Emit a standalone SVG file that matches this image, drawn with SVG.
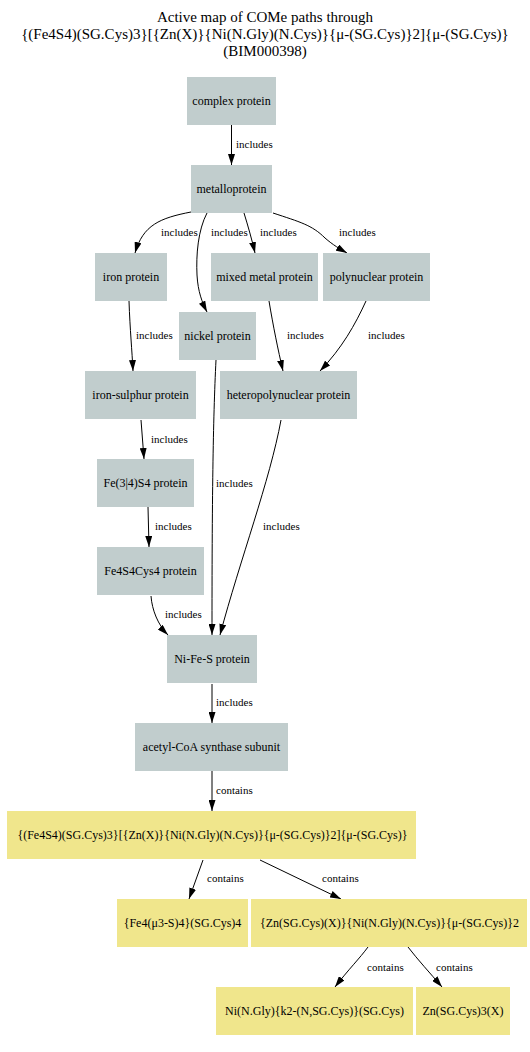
<svg xmlns="http://www.w3.org/2000/svg" width="530" height="1052" viewBox="0 0 530 1052">
<style>
.g{fill:#c1cdcd}
.k{fill:#f0e68c}
.t{font-family:"Liberation Serif","Times New Roman",serif;font-size:12px;fill:#000;text-anchor:middle}
.title{font-family:"Liberation Serif","Times New Roman",serif;font-size:15px;fill:#000;text-anchor:middle}
.e{fill:none;stroke:#000;stroke-width:1;marker-end:url(#ah)}
.l{font-family:"Liberation Serif","Times New Roman",serif;font-size:11px;fill:#000}
</style>
<defs>
<marker id="ah" markerUnits="userSpaceOnUse" markerWidth="11" markerHeight="7" viewBox="0 0 11 7" refX="11" refY="3.5" orient="auto">
<path d="M0,0 L11,3.5 L0,7 z" fill="#000"/>
</marker>
</defs>
<rect width="530" height="1052" fill="#fff"/>
<g id="title">
<text class="title" x="265" y="22">Active map of COMe paths through</text>
<text class="title" x="265" y="39">{(Fe4S4)(SG.Cys)3}[{Zn(X)}{Ni(N.Gly)(N.Cys)}{μ-(SG.Cys)}2]{μ-(SG.Cys)}</text>
<text class="title" x="265" y="56">(BIM000398)</text>
</g>
<g id="connectors">
<path class="e" d="M231.5,125 L231.5,165"/>
<path class="e" d="M191,212 C160,218 143,225 135,253"/>
<path class="e" d="M207,213 C198,230 196,255 197,275 C198,292 202,302 207,312"/>
<path class="e" d="M244,213 C248,226 252,240 255,253"/>
<path class="e" d="M273,213 C300,222 312,225 325,238 C333,245 340,249 347,253"/>
<path class="e" d="M129,301 C130,330 132,350 133,371"/>
<path class="e" d="M269,301 C273,325 278,350 283,371"/>
<path class="e" d="M366,301 C355,325 342,348 320,371"/>
<path class="e" d="M216,360 C213,420 212,500 212,635"/>
<path class="e" d="M141,420 L144,459"/>
<path class="e" d="M148,507 L149,547"/>
<path class="e" d="M151,596 C152,610 158,625 168,635"/>
<path class="e" d="M281,420 C270,480 240,560 220,635"/>
<path class="e" d="M212,684 L212,723"/>
<path class="e" d="M212,771 L212,811"/>
<path class="e" d="M203,860 L189,899"/>
<path class="e" d="M260,860 L341,899"/>
<path class="e" d="M368,947 C360,958 348,970 335,987"/>
<path class="e" d="M408,947 C418,960 430,973 442,987"/>
<text class="l" x="236" y="148">includes</text>
<text class="l" x="161" y="236">includes</text>
<text class="l" x="211" y="236">includes</text>
<text class="l" x="260" y="236">includes</text>
<text class="l" x="339" y="236">includes</text>
<text class="l" x="136" y="339">includes</text>
<text class="l" x="287" y="339">includes</text>
<text class="l" x="368" y="339">includes</text>
<text class="l" x="216" y="487">includes</text>
<text class="l" x="151" y="443">includes</text>
<text class="l" x="155" y="530">includes</text>
<text class="l" x="165" y="618">includes</text>
<text class="l" x="263" y="530">includes</text>
<text class="l" x="216" y="706">includes</text>
<text class="l" x="216" y="794">contains</text>
<text class="l" x="207" y="882">contains</text>
<text class="l" x="322" y="882">contains</text>
<text class="l" x="367" y="971">contains</text>
<text class="l" x="436" y="971">contains</text>
</g>
<g id="n-complex"><rect class="g" x="187" y="77" width="89" height="48"/><text class="t" x="231.5" y="105">complex protein</text></g>
<g id="n-metallo"><rect class="g" x="191" y="165" width="81" height="48"/><text class="t" x="231.5" y="193">metalloprotein</text></g>
<g id="n-iron"><rect class="g" x="95" y="253" width="72" height="48"/><text class="t" x="131" y="281">iron protein</text></g>
<g id="n-mixed"><rect class="g" x="211" y="253" width="107" height="48"/><text class="t" x="264.5" y="281">mixed metal protein</text></g>
<g id="n-poly"><rect class="g" x="323" y="253" width="107" height="48"/><text class="t" x="376.5" y="281">polynuclear protein</text></g>
<g id="n-nickel"><rect class="g" x="179" y="312" width="77" height="48"/><text class="t" x="217.5" y="340">nickel protein</text></g>
<g id="n-ironS"><rect class="g" x="85" y="371" width="111" height="48"/><text class="t" x="140.5" y="399">iron-sulphur protein</text></g>
<g id="n-hetero"><rect class="g" x="220" y="371" width="137" height="48"/><text class="t" x="288.5" y="399">heteropolynuclear protein</text></g>
<g id="n-fe34"><rect class="g" x="97" y="459" width="97" height="48"/><text class="t" x="145.5" y="487">Fe(3|4)S4 protein</text></g>
<g id="n-fe4s4cys4"><rect class="g" x="97" y="547" width="107" height="48"/><text class="t" x="150.5" y="575">Fe4S4Cys4 protein</text></g>
<g id="n-nifes"><rect class="g" x="167" y="635" width="90" height="48"/><text class="t" x="212" y="663">Ni-Fe-S protein</text></g>
<g id="n-acetyl"><rect class="g" x="135" y="723" width="153" height="48"/><text class="t" x="211.5" y="751">acetyl-CoA synthase subunit</text></g>
<g id="n-big"><rect class="k" x="7" y="811" width="409" height="48"/><text class="t" x="212.5" y="839">{(Fe4S4)(SG.Cys)3}[{Zn(X)}{Ni(N.Gly)(N.Cys)}{μ-(SG.Cys)}2]{μ-(SG.Cys)}</text></g>
<g id="n-fe4"><rect class="k" x="117" y="899" width="131" height="48"/><text class="t" x="182.5" y="927">{Fe4(μ3-S)4}(SG.Cys)4</text></g>
<g id="n-zn2"><rect class="k" x="251" y="899" width="276" height="48"/><text class="t" x="389.5" y="927">{Zn(SG.Cys)(X)}{Ni(N.Gly)(N.Cys)}{μ-(SG.Cys)}2</text></g>
<g id="n-ni"><rect class="k" x="216" y="987" width="197" height="48"/><text class="t" x="314.5" y="1015">Ni(N.Gly){k2-(N,SG.Cys)}(SG.Cys)</text></g>
<g id="n-zn3"><rect class="k" x="416" y="987" width="94" height="48"/><text class="t" x="463" y="1015">Zn(SG.Cys)3(X)</text></g>
</svg>
